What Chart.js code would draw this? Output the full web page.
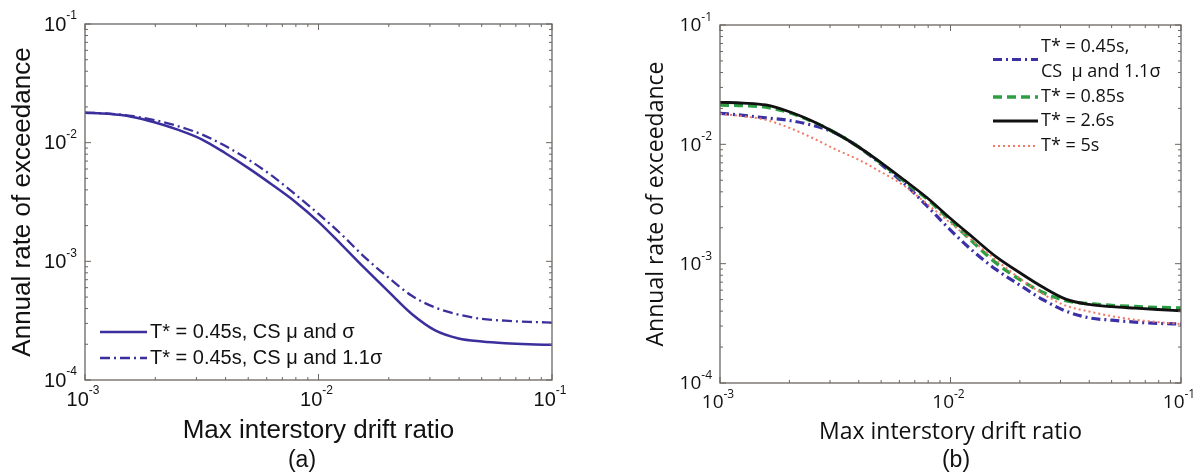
<!DOCTYPE html>
<html>
<head>
<meta charset="utf-8">
<script src="https://cdn.jsdelivr.net/npm/chart.js@4.4.1/dist/chart.umd.min.js"></script>
<style>
  body { margin: 0; background: #fff; width: 1199px; height: 476px; position: relative; overflow: hidden; }
  canvas { position: absolute; top: 0; }
  #chartA { left: 0; }
  #chartB { left: 599px; }
  .panel { position: absolute; top: 448px; line-height: 1; font-size: 23px; color: #111;
           font-family: 'Liberation Sans', Arial, sans-serif; transform: translateX(-50%); }
  #labA { left: 302px; }
  #labB { left: 956px; }
</style>
</head>
<body>
<canvas id="chartA" width="600" height="476"></canvas>
<canvas id="chartB" width="600" height="476"></canvas>
<div class="panel" id="labA">(a)</div>
<div class="panel" id="labB">(b)</div>
<script>
// max interstory drift ratio (x)
const drift = [0.001, 0.00126, 0.00158, 0.002, 0.00251, 0.00316, 0.00398, 0.00501, 0.00631, 0.00794,
               0.01, 0.0126, 0.0158, 0.02, 0.0251, 0.0316, 0.0398, 0.0501, 0.0631, 0.0794, 0.1];

// panel (a)
const csSigma = [0.0179, 0.0175, 0.01656, 0.01479, 0.0128, 0.01067, 0.00818, 0.0061, 0.00444, 0.00318,
                 0.00215, 0.00137, 0.000871, 0.000553, 0.00036, 0.000262, 0.000224, 0.000211, 0.000204, 0.0002, 0.000198];
const csSigma11 = [0.0179, 0.01758, 0.01679, 0.01545, 0.01374, 0.01175, 0.0094, 0.0072, 0.00527, 0.00368,
                   0.00251, 0.00167, 0.00108, 0.000726, 0.000512, 0.000408, 0.000356, 0.000327, 0.000316, 0.000309, 0.000305];

// panel (b)
const t045 = [0.0182, 0.0175, 0.01667, 0.01585, 0.01445, 0.01245, 0.00955, 0.00676, 0.00468, 0.00302,
              0.00191, 0.00126, 0.000891, 0.000661, 0.000501, 0.000401, 0.000352, 0.000336, 0.000324, 0.000316, 0.000312];
const t085 = [0.02133, 0.02109, 0.02051, 0.01841, 0.01556, 0.0125, 0.00955, 0.00692, 0.0049, 0.00347,
              0.00229, 0.0015, 0.00101, 0.000736, 0.000575, 0.00049, 0.000462, 0.000447, 0.000437, 0.00043, 0.000425];
const t26 = [0.02249, 0.02218, 0.02138, 0.01875, 0.01567, 0.0125, 0.00955, 0.007, 0.00501, 0.00355,
             0.00239, 0.00164, 0.00114, 0.000839, 0.000637, 0.000505, 0.000456, 0.000436, 0.000424, 0.000413, 0.000403];
const t5 = [0.01799, 0.01718, 0.01603, 0.01374, 0.01135, 0.0091, 0.00745, 0.00585, 0.00448, 0.00315,
            0.00219, 0.00153, 0.00107, 0.000752, 0.00056, 0.000445, 0.000398, 0.000363, 0.000339, 0.000324, 0.000312];

const xTickValues = [0.001, 0.01, 0.1];
const xTickLabels = ['10^-3', '10^-2', '10^-1'];
const yTickValues = [0.0001, 0.001, 0.01, 0.1];
const yTickLabels = ['10^-4', '10^-3', '10^-2', '10^-1'];

const legendA = [['T* = 0.45s, CS μ and σ'], ['T* = 0.45s, CS μ and 1.1σ']];
const legendB = [['T* = 0.45s,', 'CS  μ and 1.1σ'], ['T* = 0.85s'], ['T* = 2.6s'], ['T* = 5s']];

const xTitle = 'Max interstory drift ratio';
const yTitle = 'Annual rate of exceedance';

function pts(ys) { return drift.map((x, i) => ({ x: x, y: ys[i] })); }

// box with inward ticks on all sides and power-of-ten tick labels (matlab style)
const boxTicks = {
  id: 'boxTicks',
  afterDatasetsDraw(chart, args, opts) {
    const { ctx, chartArea: a, scales: { x, y } } = chart;
    ctx.save();
    ctx.strokeStyle = opts.color;
    ctx.lineWidth = 1.3;
    ctx.strokeRect(a.left, a.top, a.right - a.left, a.bottom - a.top);
    const minors = (lo, hi) => {
      const out = [];
      for (let e = Math.round(Math.log10(lo)); e < Math.round(Math.log10(hi)); e++)
        for (let m = 2; m < 10; m++) out.push(m * Math.pow(10, e));
      return out;
    };
    const markX = (vals, len) => {
      ctx.beginPath();
      vals.forEach(v => {
        const px = x.getPixelForValue(v);
        ctx.moveTo(px, a.bottom); ctx.lineTo(px, a.bottom - len);
        ctx.moveTo(px, a.top); ctx.lineTo(px, a.top + len);
      });
      ctx.stroke();
    };
    const markY = (vals, len) => {
      ctx.beginPath();
      vals.forEach(v => {
        const py = y.getPixelForValue(v);
        ctx.moveTo(a.left, py); ctx.lineTo(a.left + len, py);
        ctx.moveTo(a.right, py); ctx.lineTo(a.right - len, py);
      });
      ctx.stroke();
    };
    ctx.lineWidth = 1;
    markX(xTickValues, 6);
    markY(yTickValues, 6);
    markX(minors(x.min, x.max), 3);
    markY(minors(y.min, y.max), 3);

    // tick labels: base with raised exponent
    const baseFont = opts.tickSize + 'px ' + opts.family;
    const expFont = opts.expSize + 'px ' + opts.family;
    ctx.fillStyle = '#111';
    ctx.textBaseline = 'middle';
    ctx.textAlign = 'left';
    const label = (txt, cx, cy, align) => {
      const [b, e] = txt.split('^');
      ctx.font = baseFont; const wb = ctx.measureText(b).width;
      ctx.font = expFont; const we = ctx.measureText(e).width;
      const x0 = align === 'right' ? cx - wb - we : cx - (wb + we) / 2;
      ctx.font = baseFont; ctx.fillText(b, x0, cy);
      ctx.font = expFont; ctx.fillText(e, x0 + wb, cy - opts.tickSize * 0.45);
    };
    xTickValues.forEach((v, i) => label(xTickLabels[i], x.getPixelForValue(v) - 2, a.bottom + opts.xLabelDy, 'center'));
    yTickValues.forEach((v, i) => label(yTickLabels[i], a.left - 8, y.getPixelForValue(v) + 1, 'right'));
    ctx.restore();
  }
};

// legend drawn inside the plot area
const legendInside = {
  id: 'legendInside',
  afterDatasetsDraw(chart, args, opts) {
    const { ctx, chartArea: a } = chart;
    ctx.save();
    ctx.font = opts.font;
    ctx.fillStyle = '#111';
    ctx.textBaseline = 'middle';
    opts.items.forEach((it, i) => {
      const ds = chart.data.datasets[i];
      const base = opts.fromBottom ? a.bottom : a.top;
      const x0 = a.left + opts.dx;
      const ys = it.rows.map(r => base + r);
      const ym = (ys[0] + ys[ys.length - 1]) / 2;
      ctx.strokeStyle = ds.borderColor;
      ctx.lineWidth = ds.borderWidth;
      ctx.setLineDash(ds.borderDash || []);
      ctx.beginPath();
      ctx.moveTo(x0, ym);
      ctx.lineTo(x0 + opts.len, ym);
      ctx.stroke();
      ctx.setLineDash([]);
      ds.legendText.forEach((t, k) => ctx.fillText(t, x0 + opts.len + opts.gap, ys[k]));
    });
    ctx.restore();
  }
};

function scalesFor(font, titleSize, yWidth, xHeight, yTitlePad) {
  return {
    x: {
      type: 'logarithmic', min: 0.001, max: 0.1,
      afterBuildTicks: s => { s.ticks = xTickValues.map(v => ({ value: v })); },
      afterFit: s => { s.height = xHeight; },
      grid: { display: false },
      border: { display: false },
      ticks: { display: false },
      title: { display: true, text: xTitle, color: '#111', padding: { top: 0, bottom: 0 },
               font: { family: font, size: titleSize } }
    },
    y: {
      type: 'logarithmic', min: 0.0001, max: 0.1,
      afterBuildTicks: s => { s.ticks = yTickValues.map(v => ({ value: v })); },
      afterFit: s => { s.width = yWidth; },
      grid: { display: false },
      border: { display: false },
      ticks: { display: false },
      title: { display: true, text: yTitle, color: '#111', padding: { top: yTitlePad, bottom: 0 },
               font: { family: font, size: titleSize } }
    }
  };
}

const lineBase = { pointRadius: 0, fill: false, cubicInterpolationMode: 'monotone' };
const fontA = "'Liberation Sans', Arial, sans-serif";
const fontB = "'Open Sans', sans-serif";

new Chart(document.getElementById('chartA'), {
  type: 'line',
  data: {
    datasets: [
      Object.assign({}, lineBase, { label: legendA[0][0], legendText: legendA[0], data: pts(csSigma),
        borderColor: '#3a2f9c', borderWidth: 2.5 }),
      Object.assign({}, lineBase, { label: legendA[1][0], legendText: legendA[1], data: pts(csSigma11),
        borderColor: '#3a2f9c', borderWidth: 2.3, borderDash: [10, 4, 2, 4] })
    ]
  },
  options: {
    responsive: false, animation: false, devicePixelRatio: 1,
    layout: { padding: { left: 0, right: 48, top: 24, bottom: 30 } },
    scales: scalesFor(fontA, 26, 85, 66, 7),
    plugins: {
      legend: { display: false }, tooltip: { enabled: false },
      boxTicks: { color: '#6a6662', family: fontA, tickSize: 20, expSize: 12, xLabelDy: 20 },
      legendInside: { font: '20px ' + fontA, fromBottom: true,
        dx: 15, len: 47, gap: 3, items: [{ rows: [-48] }, { rows: [-22] }] }
    }
  },
  plugins: [boxTicks, legendInside]
});

new Chart(document.getElementById('chartB'), {
  type: 'line',
  data: {
    datasets: [
      Object.assign({}, lineBase, { label: legendB[0].join(' '), legendText: legendB[0], data: pts(t045),
        borderColor: '#3b30a6', borderWidth: 3.2, borderDash: [9, 4, 2, 4], order: 4 }),
      Object.assign({}, lineBase, { label: legendB[1][0], legendText: legendB[1], data: pts(t085),
        borderColor: '#2e9e44', borderWidth: 3.4, borderDash: [9, 5], order: 3 }),
      Object.assign({}, lineBase, { label: legendB[2][0], legendText: legendB[2], data: pts(t26),
        borderColor: '#111111', borderWidth: 2.8, order: 2 }),
      Object.assign({}, lineBase, { label: legendB[3][0], legendText: legendB[3], data: pts(t5),
        borderColor: '#f07a66', borderWidth: 2, borderDash: [2, 3], order: 1 })
    ]
  },
  options: {
    responsive: false, animation: false, devicePixelRatio: 1,
    layout: { padding: { left: 35, right: 18, top: 25, bottom: 30 } },
    scales: scalesFor(fontB, 23, 86, 63, 9),
    plugins: {
      legend: { display: false }, tooltip: { enabled: false },
      boxTicks: { color: '#6a6662', family: fontB, tickSize: 19, expSize: 12, xLabelDy: 20 },
      legendInside: { font: '18px ' + fontB, fromBottom: false,
        dx: 273, len: 45, gap: 3,
        items: [{ rows: [22, 47] }, { rows: [72] }, { rows: [96] }, { rows: [121] }] }
    }
  },
  plugins: [boxTicks, legendInside]
});
</script>
</body>
</html>
